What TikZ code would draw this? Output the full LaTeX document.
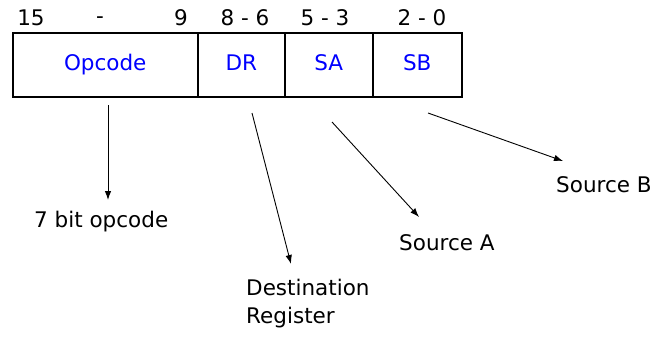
\documentclass[tikz,border=0pt]{standalone}
\usepackage{fontspec}
\setmainfont{DejaVu Sans}
\usetikzlibrary{arrows.meta}
\begin{document}
\begin{tikzpicture}[x=1pt, y=-1pt,
	every node/.style = {font=\fontsize{21.5}{28}\selectfont},
	field/.style = {draw, line width=1.5pt, minimum height=64pt, inner sep=0pt, anchor=west, text=blue, text height=11pt, text depth=-3pt},
	lbl/.style = {anchor=west, align=left, inner sep=1pt},
	arr/.style = {-{Latex[length=9pt,width=6.5pt]}, line width=0.9pt}]
		\useasboundingbox (0,0) rectangle (660,342);
		% Kentat
		\node[field, minimum width=185pt] (op) at (12,65) {Opcode};
		\node[field, minimum width=87pt] (dr) at (197,65) {DR};
		\node[field, minimum width=88pt] (sa) at (284,65) {SA};
		\node[field, minimum width=89pt] (sb) at (372,65) {SB};
		% Bitit
		\node (b15) at (31,18) {15};
		\node (bdash) at (100,20) {-};
		\node (b9) at (181,18) {9};
		\node (bdr) at (245,18) {8 - 6};
		\node (bsa) at (325,18) {5 - 3};
		\node (bsb) at (422,18) {2 - 0};
		% Selitteet
		\node[lbl] (opc) at (33,222) {7 bit opcode};
		\node[lbl] (dest) at (245,304) {Destination\\Register};
		\node[lbl] (srca) at (398,243) {Source A};
		\node[lbl] (srcb) at (555,185) {Source B};
		% Nuolet
		\coordinate (opT) at (108,105);	\coordinate (opH) at (108,200);
		\coordinate (drT) at (252,113);	\coordinate (drH) at (291,264);
		\coordinate (saT) at (332,122);	\coordinate (saH) at (419,217);
		\coordinate (sbT) at (428,113);	\coordinate (sbH) at (563,161);
		\draw[arr] (opT) -- (opH);	% Opcode
		\draw[arr] (drT) -- (drH);	% DR
		\draw[arr] (saT) -- (saH);	% SA
		\draw[arr] (sbT) -- (sbH);	% SB
\end{tikzpicture}
\end{document}
